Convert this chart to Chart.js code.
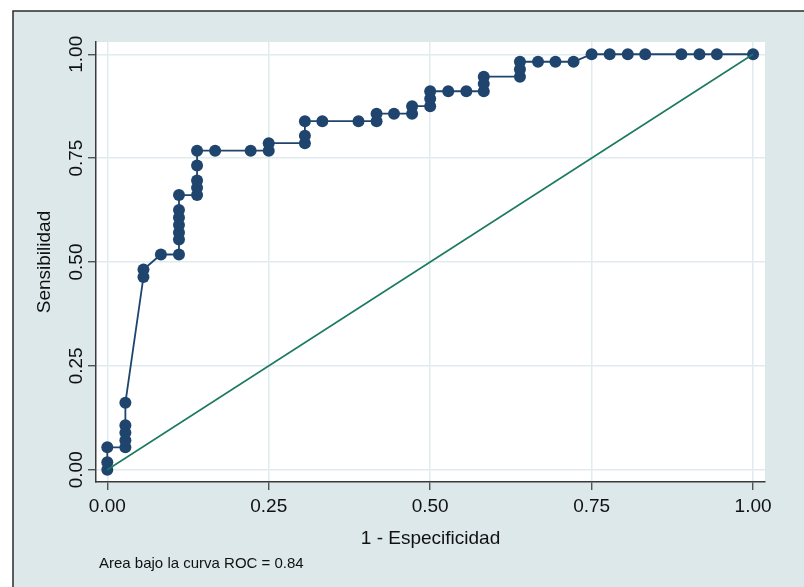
<!DOCTYPE html>
<html>
<head>
<meta charset="utf-8">
<script src="https://cdn.jsdelivr.net/npm/chart.js@4.4.1/dist/chart.umd.min.js"></script>
<style>
  html, body { margin: 0; padding: 0; background: #ffffff; }
  canvas { display: block; }
</style>
</head>
<body>
<canvas id="roc" width="804" height="587"></canvas>
<script>
// 1 - especificidad (false positive rate) at each cutpoint
var fpr = [0.000, 0.000, 0.000, 0.028, 0.028, 0.028, 0.028, 0.028, 0.056, 0.056,
           0.083, 0.111, 0.111, 0.111, 0.111, 0.111, 0.111, 0.111, 0.139, 0.139,
           0.139, 0.139, 0.139, 0.167, 0.222, 0.250, 0.250, 0.306, 0.306, 0.306,
           0.333, 0.389, 0.417, 0.417, 0.444, 0.472, 0.472, 0.500, 0.500, 0.500,
           0.528, 0.556, 0.583, 0.583, 0.583, 0.639, 0.639, 0.639, 0.667, 0.694,
           0.722, 0.750, 0.778, 0.806, 0.833, 0.889, 0.917, 0.944, 1.000];
// sensibilidad at the same cutpoints
var tpr = [0.000, 0.018, 0.054, 0.054, 0.071, 0.089, 0.107, 0.161, 0.464, 0.482,
           0.518, 0.518, 0.554, 0.571, 0.589, 0.607, 0.625, 0.661, 0.661, 0.679,
           0.696, 0.732, 0.768, 0.768, 0.768, 0.768, 0.786, 0.786, 0.804, 0.839,
           0.839, 0.839, 0.839, 0.857, 0.857, 0.857, 0.875, 0.875, 0.893, 0.911,
           0.911, 0.911, 0.911, 0.929, 0.946, 0.946, 0.964, 0.982, 0.982, 0.982,
           0.982, 1.000, 1.000, 1.000, 1.000, 1.000, 1.000, 1.000, 1.000];
var refX = [0, 1];
var refY = [0, 1];
var xTicks = [0, 0.25, 0.5, 0.75, 1];
var yTicks = [0, 0.25, 0.5, 0.75, 1];
var xTitle = '1 - Especificidad';
var yTitle = 'Sensibilidad';
var note = 'Area bajo la curva ROC = 0.84';

var navy = '#1f456e';
var green = '#1b7a62';
var panelBg = '#dce8ea';
var gridCol = '#e0ecee';
var axisCol = '#3a3a3a';

function toPoints(xs, ys) {
  return xs.map(function (x, i) { return { x: x, y: ys[i] }; });
}

var panelPlugin = {
  id: 'panel',
  beforeDraw: function (chart) {
    var ctx = chart.ctx, a = chart.chartArea;
    ctx.save();
    ctx.fillStyle = '#ffffff';
    ctx.fillRect(0, 0, chart.width, chart.height);
    ctx.fillStyle = panelBg;
    ctx.fillRect(13, 11, chart.width, chart.height);
    ctx.strokeStyle = '#2b2b2b';
    ctx.lineWidth = 1.5;
    ctx.beginPath();
    ctx.moveTo(13, chart.height + 2);
    ctx.lineTo(13, 11);
    ctx.lineTo(chart.width + 2, 11);
    ctx.stroke();
    ctx.fillStyle = '#ffffff';
    ctx.fillRect(a.left, a.top, a.right - a.left, a.bottom - a.top);
    ctx.restore();
  },
  afterDraw: function (chart) {
    var ctx = chart.ctx;
    ctx.save();
    ctx.fillStyle = '#111111';
    ctx.font = '15px "Liberation Sans", Arial, sans-serif';
    ctx.textBaseline = 'alphabetic';
    ctx.fillText(note, 99, 568);
    ctx.restore();
  }
};

var font = { family: '"Liberation Sans", Arial, sans-serif', size: 19 };
var titleFont = { family: '"Liberation Sans", Arial, sans-serif', size: 19 };

new Chart(document.getElementById('roc'), {
  type: 'scatter',
  data: {
    datasets: [{
      data: toPoints(refX, refY),
      showLine: true,
      borderColor: green,
      borderWidth: 1.6,
      pointRadius: 0
    }, {
      data: toPoints(fpr, tpr),
      showLine: true,
      borderColor: navy,
      borderWidth: 1.8,
      pointRadius: 6,
      pointBorderWidth: 0,
      pointBackgroundColor: navy
    }]
  },
  options: {
    responsive: false,
    animation: false,
    layout: { padding: { left: 13, top: 42, right: 39, bottom: 0 } },
    plugins: { legend: { display: false }, tooltip: { enabled: false } },
    scales: {
      x: {
        type: 'linear',
        min: -0.0175,
        max: 1.0185,
        afterBuildTicks: function (s) { s.ticks = xTicks.map(function (v) { return { value: v }; }); },
        afterFit: function (s) { s.height = 105; },
        ticks: {
          color: '#111111',
          font: font,
          padding: 5,
          maxRotation: 0,
          callback: function (v) { return v.toFixed(2); }
        },
        grid: { color: gridCol, lineWidth: 1.5, tickColor: axisCol, tickLength: 8, tickWidth: 1.2 },
        border: { display: true, color: axisCol, width: 1.5 },
        title: { display: true, text: xTitle, color: '#111111', font: titleFont, padding: { top: 0, bottom: 37 } }
      },
      y: {
        type: 'linear',
        min: -0.0295,
        max: 1.0295,
        afterBuildTicks: function (s) { s.ticks = yTicks.map(function (v) { return { value: v }; }); },
        afterFit: function (s) { s.width = 83; },
        ticks: {
          color: '#111111',
          font: font,
          padding: -7,
          minRotation: 90,
          maxRotation: 90,
          crossAlign: 'center',
          callback: function (v) { return v.toFixed(2); }
        },
        grid: { color: gridCol, lineWidth: 1.5, tickColor: axisCol, tickLength: 8, tickWidth: 1.2 },
        border: { display: true, color: axisCol, width: 1.5 },
        title: { display: true, text: yTitle, color: '#111111', font: titleFont, padding: { top: 20, bottom: 0 } }
      }
    }
  },
  plugins: [panelPlugin]
});
</script>
</body>
</html>
